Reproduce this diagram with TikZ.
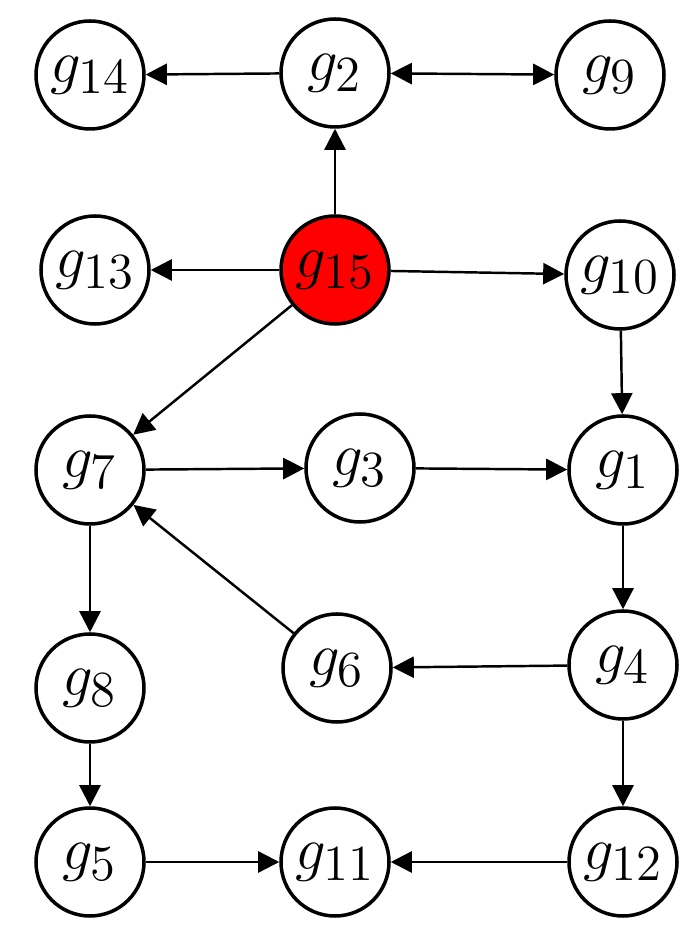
\documentclass[tikz,border=0pt]{standalone}
\usepackage{fontspec}
\setmainfont{Liberation Serif}
\usetikzlibrary{arrows.meta}
\tikzset{gene/.style={circle,draw,line width=1pt,minimum size=1.08cm,inner sep=0pt,font=\fontsize{19}{22}\selectfont},
  link/.style={-{Triangle[length=6pt,width=6pt]},line width=0.7pt}}
\begin{document}
\begin{tikzpicture}
\useasboundingbox (0,0) rectangle (6.96,9.41);
\node[gene] (g14) at (0.90,8.66) {$g_{14}$};
\node[gene] (g2) at (3.35,8.68) {$g_{2}$};
\node[gene] (g9) at (6.10,8.66) {$g_{9}$};
\node[gene] (g13) at (0.95,6.71) {$g_{13}$};
\node[gene,fill=red] (g15) at (3.35,6.71) {$g_{15}$};
\node[gene] (g10) at (6.20,6.66) {$g_{10}$};
\node[gene] (g7) at (0.90,4.71) {$g_{7}$};
\node[gene] (g3) at (3.60,4.73) {$g_{3}$};
\node[gene] (g1) at (6.23,4.71) {$g_{1}$};
\node[gene] (g8) at (0.90,2.53) {$g_{8}$};
\node[gene] (g6) at (3.37,2.73) {$g_{6}$};
\node[gene] (g4) at (6.23,2.76) {$g_{4}$};
\node[gene] (g5) at (0.90,0.79) {$g_{5}$};
\node[gene] (g11) at (3.35,0.79) {$g_{11}$};
\node[gene] (g12) at (6.23,0.79) {$g_{12}$};
% edges
\draw[link] (g2) -- (g14);
\draw[link,{Triangle[length=6pt,width=6pt]}-{Triangle[length=6pt,width=6pt]}] (g2) -- (g9);
\draw[link] (g15) -- (g2);
\draw[link] (g15) -- (g13);
\draw[link] (g15) -- (g10);
\draw[link] (g15) -- (g7);
\draw[link] (g10) -- (g1);
\draw[link] (g7) -- (g3);
\draw[link] (g3) -- (g1);
\draw[link] (g1) -- (g4);
\draw[link] (g4) -- (g6);
\draw[link] (g6) -- (g7);
\draw[link] (g7) -- (g8);
\draw[link] (g4) -- (g12);
\draw[link] (g8) -- (g5);
\draw[link] (g5) -- (g11);
\draw[link] (g12) -- (g11);
\end{tikzpicture}
\end{document}
